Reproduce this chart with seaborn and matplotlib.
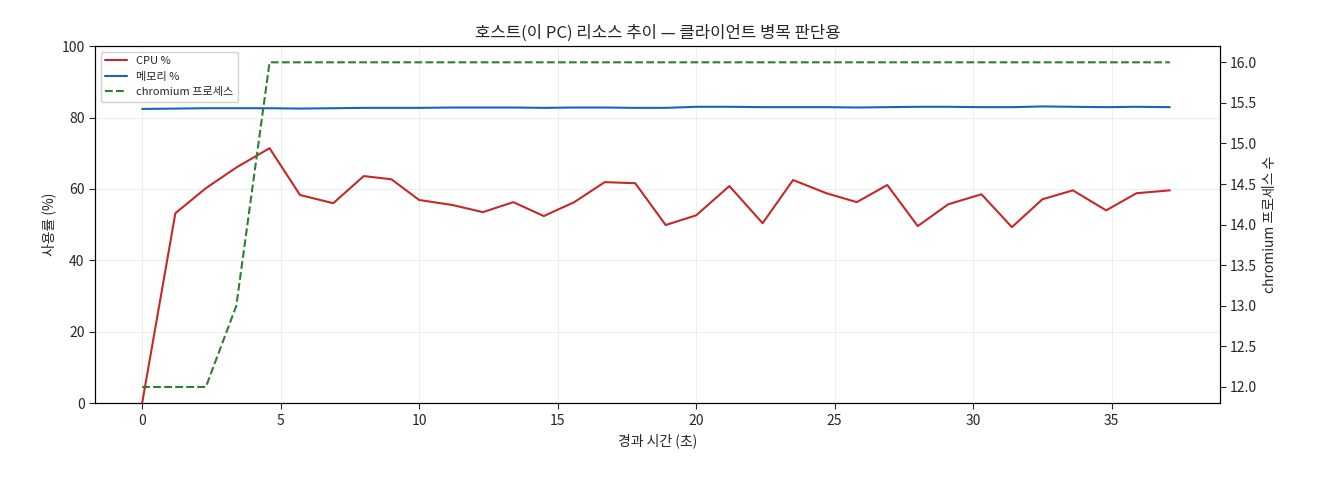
import matplotlib
matplotlib.use("Agg")
import matplotlib.pyplot as plt
import seaborn as sns
import pandas as pd

sns.set_style("white")
plt.rcParams['font.family'] = ['Noto Sans CJK KR', 'DejaVu Sans']
plt.rcParams['axes.unicode_minus'] = False

t = [0, 1.2, 2.3, 3.4, 4.6, 5.7, 6.9, 8.0, 9.0, 10.0, 11.2, 12.3, 13.4, 14.5, 15.6, 16.7, 17.8,
     18.9, 20.0, 21.2, 22.4, 23.5, 24.7, 25.8, 26.9, 28.0, 29.1, 30.3, 31.4, 32.5, 33.6, 34.8, 35.9, 37.1]
cpu = [0, 53.2, 60.2, 66.0, 71.4, 58.3, 56.0, 63.6, 62.7, 56.9, 55.5, 53.5, 56.3, 52.4, 56.3, 61.9, 61.6,
       49.9, 52.6, 60.8, 50.4, 62.5, 58.8, 56.3, 61.1, 49.6, 55.7, 58.5, 49.3, 57.1, 59.6, 54.0, 58.8, 59.6]
mem = [82.4, 82.5, 82.6, 82.6, 82.6, 82.5, 82.6, 82.7, 82.7, 82.7, 82.8, 82.8, 82.8, 82.7, 82.8, 82.8, 82.7,
       82.7, 83.0, 83.0, 82.9, 82.9, 82.9, 82.8, 82.9, 83.0, 83.0, 82.9, 82.9, 83.1, 83.0, 82.9, 83.0, 82.9]
proc = [12, 12, 12, 13, 16, 16, 16, 16, 16, 16, 16, 16, 16, 16, 16, 16, 16,
        16, 16, 16, 16, 16, 16, 16, 16, 16, 16, 16, 16, 16, 16, 16, 16, 16]

df = pd.DataFrame({"t": t, "cpu": cpu, "mem": mem, "proc": proc})

fig, ax = plt.subplots(figsize=(13.2, 4.8), dpi=100)
sns.lineplot(data=df, x="t", y="cpu", ax=ax, color="#c62828", lw=1.5, label="CPU %", legend=False)
sns.lineplot(data=df, x="t", y="mem", ax=ax, color="#1565c0", lw=1.5, label="메모리 %", legend=False)
ax2 = ax.twinx()
sns.lineplot(data=df, x="t", y="proc", ax=ax2, color="#2e7d32", lw=1.5, ls="--",
             label="chromium 프로세스", legend=False)

ax.set_ylim(0, 100)
ax2.set_ylim(11.8, 16.2)
ax.set_xlim(-1.7, 38.9)
ax.grid(True, alpha=0.3)
ax.set_xlabel("경과 시간 (초)")
ax.set_ylabel("사용률 (%)")
ax2.set_ylabel("chromium 프로세스 수")
ax.set_title("호스트(이 PC) 리소스 추이 — 클라이언트 병목 판단용")
for a in (ax, ax2):
    a.tick_params(axis='both', which='both', direction='out', length=4, left=(a is ax), right=(a is ax2), bottom=True)
    for s in a.spines.values():
        s.set_color("black")

h1, l1 = ax.get_legend_handles_labels()
h2, l2 = ax2.get_legend_handles_labels()
ax2.legend(h1 + h2, l1 + l2, loc="upper left", fontsize=8, framealpha=0.9)

fig.subplots_adjust(left=0.072, right=0.924, top=0.904, bottom=0.16)
fig.savefig("out.png", dpi=100)
